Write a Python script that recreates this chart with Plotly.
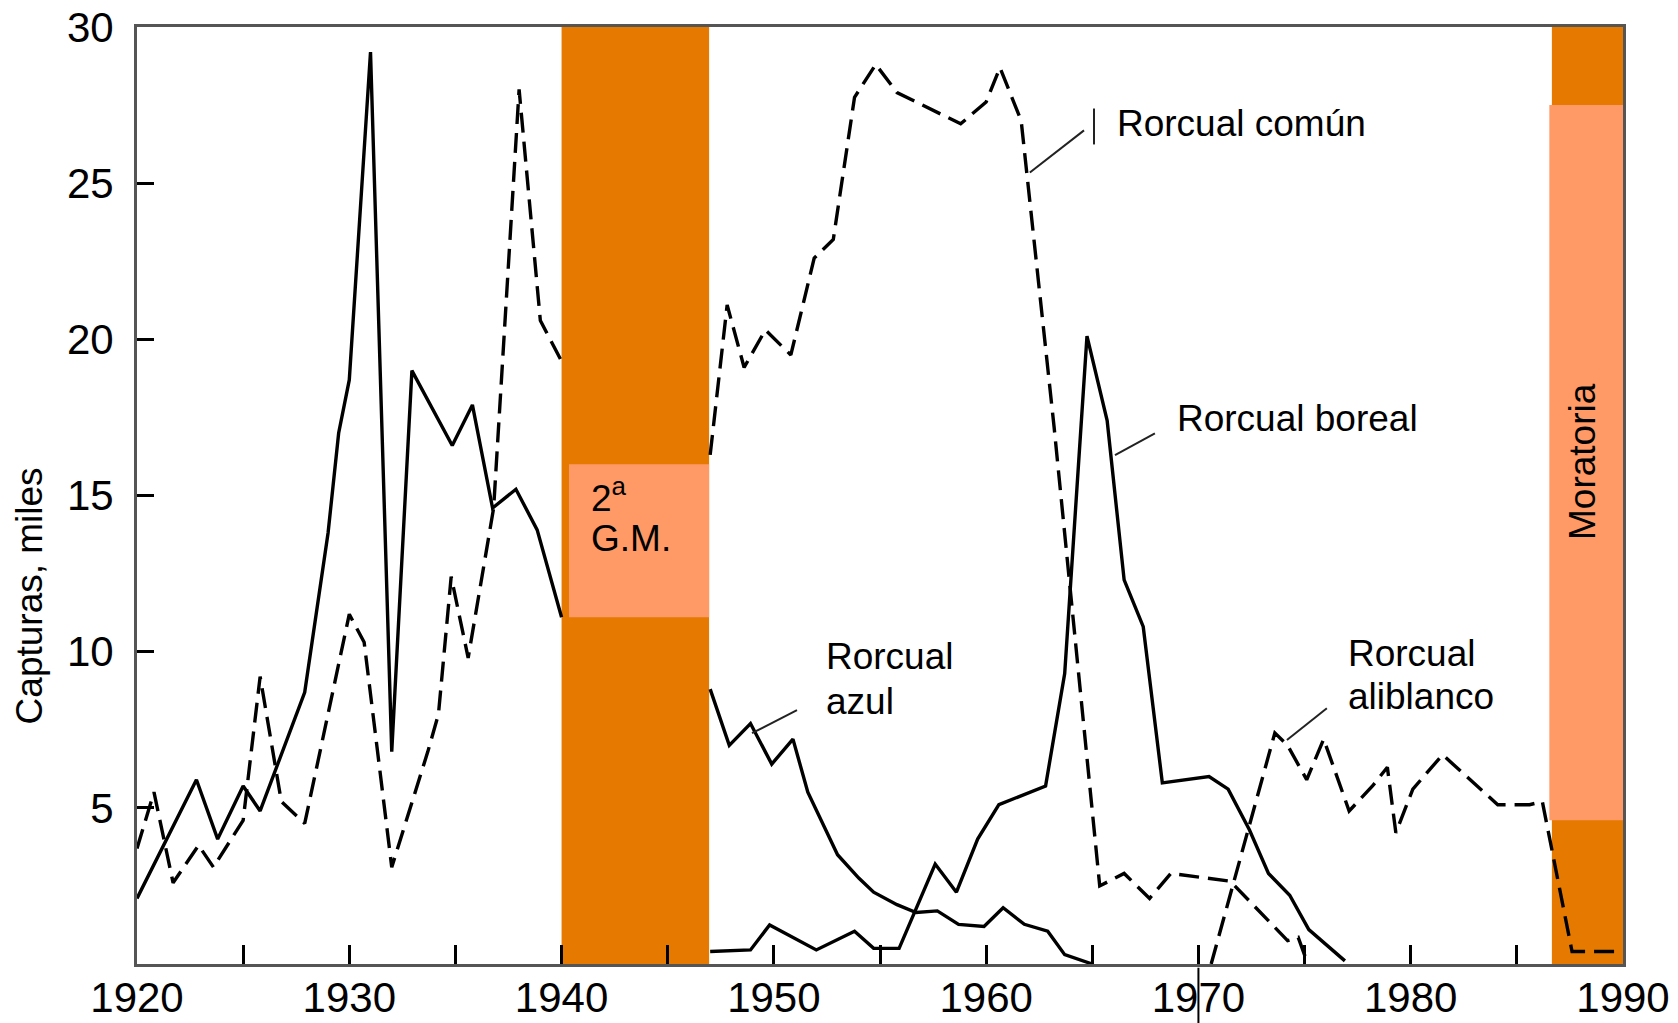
import plotly.graph_objects as go

# ---------------- data ----------------
# Rorcual azul (blue whale) - solid
azul_years_pre = [1920.0, 1922.8, 1923.8, 1925.0, 1925.8, 1927.9, 1929.0, 1929.5, 1930.0, 1931.0,
                  1932.0, 1932.95, 1934.85, 1935.8, 1936.75, 1937.85, 1938.85, 1940.0]
azul_values_pre = [2.1, 5.9, 4.0, 5.7, 4.9, 8.7, 13.8, 17.0, 18.7, 29.2,
                   6.8, 19.0, 16.6, 17.9, 14.6, 15.2, 13.9, 11.1]
azul_years_post = [1947.0, 1947.9, 1948.9, 1949.9, 1950.9, 1951.6, 1953.0, 1954.0, 1954.7, 1955.8,
                   1956.7, 1957.7, 1958.7, 1959.9, 1960.8, 1961.8, 1962.9, 1963.7, 1965.0]
azul_values_post = [8.8, 7.0, 7.7, 6.4, 7.2, 5.5, 3.5, 2.75, 2.3, 1.9,
                    1.65, 1.7, 1.27, 1.2, 1.8, 1.27, 1.05, 0.3, 0.0]

# Rorcual común (fin whale) - dashed
comun_years_pre = [1920.0, 1920.8, 1921.7, 1922.9, 1923.6, 1925.0, 1925.8, 1926.8, 1927.9, 1930.0,
                   1930.7, 1932.0, 1933.7, 1934.2, 1934.8, 1935.6, 1936.8, 1938.0, 1939.0, 1940.0]
comun_values_pre = [3.7, 5.5, 2.6, 3.8, 3.1, 4.6, 9.2, 5.2, 4.5, 11.2,
                    10.3, 3.1, 6.8, 8.0, 12.4, 9.8, 14.6, 28.0, 20.6, 19.3]
comun_years_post = [1947.0, 1947.8, 1948.6, 1949.6, 1950.8, 1951.9, 1952.8, 1953.8, 1954.8, 1955.8,
                    1958.8, 1960.0, 1960.65, 1961.65, 1963.2, 1965.35, 1966.5, 1967.7, 1968.7, 1971.5,
                    1974.2, 1974.7, 1975.1]
comun_values_post = [16.3, 21.1, 19.1, 20.3, 19.5, 22.6, 23.2, 27.75, 28.8, 27.9,
                     26.9, 27.6, 28.7, 27.0, 17.2, 2.5, 2.9, 2.1, 2.9, 2.65,
                     0.75, 0.85, 0.1]

# Rorcual boreal (sei whale) - solid
boreal_years = [1947.0, 1948.9, 1949.8, 1952.0, 1953.8, 1954.7, 1955.9, 1957.6, 1958.6, 1959.6,
                1960.6, 1962.8, 1963.7, 1964.75, 1965.7, 1966.5, 1967.4, 1968.3, 1970.5, 1971.4,
                1972.4, 1973.3, 1974.3, 1975.2, 1976.9]
boreal_values = [0.4, 0.45, 1.25, 0.45, 1.05, 0.5, 0.5, 3.2, 2.3, 4.0,
                 5.1, 5.7, 9.3, 20.1, 17.4, 12.3, 10.8, 5.8, 6.0, 5.6,
                 4.3, 2.9, 2.2, 1.1, 0.1]

# Rorcual aliblanco (minke whale) - dashed
aliblanco_years = [1970.6, 1973.6, 1974.2, 1975.1, 1975.9, 1977.1, 1978.2, 1978.9, 1979.3, 1980.1,
                   1981.5, 1984.1, 1985.6, 1986.2, 1987.6, 1990.0]
aliblanco_values = [0.0, 7.4, 7.0, 5.9, 7.2, 4.9, 5.7, 6.3, 4.2, 5.6,
                    6.7, 5.1, 5.1, 5.2, 0.4, 0.4]

x_label_years = [1920, 1930, 1940, 1950, 1960, 1970, 1980, 1990]
x_labels = ["1920", "1930", "1940", "1950", "1960", "1970", "1980", "1990"]
x_minor_years = [1925, 1935, 1945, 1955, 1965, 1975, 1985]
y_tick_values = [5, 10, 15, 20, 25, 30]
y_tick_labels = ["5", "10", "15", "20", "25", "30"]

# periods
guerra_period = [1940.0, 1946.95]
guerra_label_box = [1940.35, 1946.95, 11.1, 16.0]
moratoria_period = [1986.65, 1990.0]
moratoria_label_box = [1986.53, 1990.0, 4.6, 27.5]

FONT = "Liberation Sans, Arial, sans-serif"
DARK_ORANGE = "#E67A00"
LIGHT_ORANGE = "#FF9966"

fig = go.Figure()

def add_series(xs_list, ys_list, dash):
    xs, ys = [], []
    for i, (xa, ya) in enumerate(zip(xs_list, ys_list)):
        if i > 0:
            xs.append(None)
            ys.append(None)
        xs += xa
        ys += ya
    fig.add_trace(go.Scatter(x=xs, y=ys, mode="lines", connectgaps=False,
                             line=dict(color="black", width=3.4, dash=dash),
                             showlegend=False, hoverinfo="skip"))

add_series([azul_years_pre, azul_years_post], [azul_values_pre, azul_values_post], "solid")
add_series([comun_years_pre, comun_years_post], [comun_values_pre, comun_values_post], "20px,9px")
add_series([boreal_years], [boreal_values], "solid")
add_series([aliblanco_years], [aliblanco_values], "20px,9px")

shapes = []
# WWII band
shapes.append(dict(type="rect", xref="x", yref="y", x0=guerra_period[0], x1=guerra_period[1],
                   y0=0, y1=30, fillcolor=DARK_ORANGE, line=dict(width=0), layer="below"))
shapes.append(dict(type="rect", xref="x", yref="y", x0=guerra_label_box[0], x1=guerra_label_box[1],
                   y0=guerra_label_box[2], y1=guerra_label_box[3], fillcolor=LIGHT_ORANGE,
                   line=dict(width=0), layer="below"))
# Moratorium band
shapes.append(dict(type="rect", xref="x", yref="y", x0=moratoria_period[0], x1=moratoria_period[1],
                   y0=0, y1=30, fillcolor=DARK_ORANGE, line=dict(width=0), layer="below"))
shapes.append(dict(type="rect", xref="x", yref="y", x0=moratoria_label_box[0], x1=moratoria_label_box[1],
                   y0=moratoria_label_box[2], y1=moratoria_label_box[3], fillcolor=LIGHT_ORANGE,
                   line=dict(width=0), layer="below"))

# leader lines for labels
leaders = [
    (1962.06, 25.34, 1964.61, 26.69),   # común
    (1965.08, 27.39, 1965.08, 26.24),   # común bar
    (1966.07, 16.29, 1967.95, 16.99),   # boreal
    (1948.97, 7.39, 1951.09, 8.13),     # azul
    (1974.17, 7.17, 1976.05, 8.19),     # aliblanco
]
for x0, y0, x1, y1 in leaders:
    shapes.append(dict(type="line", xref="x", yref="y", x0=x0, y0=y0, x1=x1, y1=y1,
                       line=dict(color="#222", width=2), layer="above"))

# stray tick mark through the 1970 label
shapes.append(dict(type="line", xref="paper", yref="paper", x0=50/70, x1=50/70, y0=-0.004, y1=-0.065,
                   line=dict(color="black", width=2)))

ann = []
def label(text, x, y, angle=0, xanchor="left", xref="x", yref="y"):
    ann.append(dict(text=text, x=x, y=y, xref=xref, yref=yref, showarrow=False,
                    xanchor=xanchor, yanchor="middle", textangle=angle,
                    font=dict(family=FONT, size=37, color="black")))

label("Rorcual común", 1966.05, 26.9)
label("Rorcual boreal", 1968.9, 17.45)
label("Rorcual", 1952.36, 9.83)
label("azul", 1952.36, 8.42)
label("Rorcual", 1976.95, 9.95)
label("aliblanco", 1976.95, 8.58)
label("2<sup>a</sup>", 1941.3, 15.0)
label("G.M.", 1941.3, 13.63)
label("Moratoria", 1988.06, 16.1, angle=-90, xanchor="center")
label("Capturas, miles", -0.0727, 11.8, angle=-90, xanchor="center", xref="paper")

fig.update_layout(
    width=1678, height=1023, autosize=False,
    margin=dict(l=137, r=55, t=27, b=59, pad=0, autoexpand=False),
    paper_bgcolor="white", plot_bgcolor="white",
    shapes=shapes, annotations=ann,
    font=dict(family=FONT, color="black"),
    xaxis=dict(range=[1920, 1990], tickmode="array", tickvals=x_label_years, ticktext=x_labels,
               ticks="inside", ticklen=19, tickwidth=3, tickcolor="black",
               minor=dict(tickmode="array", tickvals=x_minor_years, ticks="inside",
                          ticklen=19, tickwidth=3, tickcolor="black", showgrid=False),
               showline=True, linecolor="#555", linewidth=3, mirror=True, automargin=False,
               showgrid=False, zeroline=False, ticklabelstandoff=-5,
               tickfont=dict(family=FONT, size=42, color="black")),
    yaxis=dict(range=[0, 30], tickmode="array", tickvals=y_tick_values, ticktext=y_tick_labels,
               ticks="inside", ticklen=17, tickwidth=3, tickcolor="black",
               showline=True, linecolor="#555", linewidth=3, mirror=True, automargin=False,
               showgrid=False, zeroline=False, ticklabelstandoff=12,
               tickfont=dict(family=FONT, size=42, color="black")),
)

fig.write_html("out.html", config={"displayModeBar": False},
               post_script="document.body.style.margin='0';document.body.style.overflow='hidden';")
